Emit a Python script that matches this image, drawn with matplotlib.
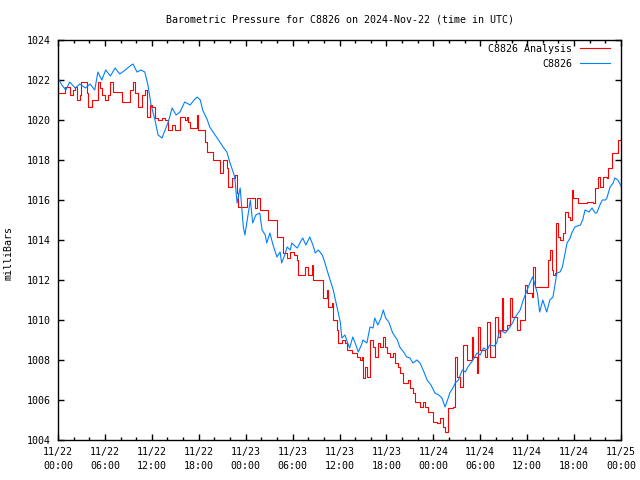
import matplotlib
matplotlib.use('Agg')
import matplotlib.pyplot as plt
from matplotlib.ticker import MultipleLocator

# hours since 11/22 00:00 UTC, pressure in mb
hours_station = [0.0, 0.5, 1.0, 1.5, 2.2, 2.8, 3.5, 4.1, 4.7, 5.1, 5.6, 6.1, 6.7, 7.3, 7.9,
                 8.6, 9.2, 9.6, 10.1, 10.6, 11.1, 11.5, 11.9, 12.4, 12.8, 13.3, 13.7, 14.1,
                 14.6, 15.1, 15.6, 16.2, 16.9, 17.4, 17.8, 18.2, 18.5, 19.1, 19.4, 20.1,
                 20.7, 21.2, 21.6, 22.0, 22.4, 22.6, 22.9, 23.3, 23.7, 23.9, 24.3, 24.6,
                 24.9, 25.3, 25.8, 26.1, 26.5, 26.7, 27.1, 27.5, 28.0, 28.4, 28.6, 29.0,
                 29.3, 29.7, 29.9, 30.3, 30.6, 31.0, 31.3, 31.7, 32.2, 32.6, 32.9, 33.3,
                 33.8, 34.1, 34.4, 34.8, 35.2, 35.7, 36.1, 36.3, 36.7, 37.0, 37.3, 37.7,
                 38.1, 38.4, 38.8, 39.0, 39.5, 39.9, 40.3, 40.5, 40.9, 41.3, 41.6, 41.9,
                 42.3, 42.8, 43.4, 43.7, 44.2, 44.6, 45.0, 45.4, 45.9, 46.3, 46.8, 47.2,
                 47.7, 48.2, 48.7, 49.1, 49.5, 49.9, 50.1, 50.5, 50.8, 51.2, 51.7, 52.1,
                 52.4, 52.9, 53.6, 54.0, 54.4, 54.9, 55.2, 55.8, 56.1, 56.5, 57.2, 57.8,
                 58.2, 58.4, 59.1, 59.5, 60.0, 60.4, 60.7, 61.3, 61.6, 62.0, 62.5, 62.9,
                 63.3, 63.8, 64.2, 64.5, 64.8, 65.1, 65.5, 65.7, 66.1, 66.8, 67.1, 67.4,
                 67.9, 68.3, 68.7, 68.9, 69.3, 69.6, 70.0, 70.2, 70.6, 71.0, 71.2, 71.6, 72.0]
press_station = [1022.1, 1021.75, 1021.5, 1021.9, 1021.6, 1021.8, 1021.6, 1021.8, 1021.5,
                 1022.4, 1022.0, 1022.5, 1022.2, 1022.6, 1022.3, 1022.5, 1022.7, 1022.8,
                 1022.4, 1022.5, 1022.4, 1021.75, 1020.75, 1020.0, 1019.25, 1019.1, 1019.5,
                 1019.9, 1020.6, 1020.25, 1020.4, 1020.9, 1020.75, 1021.0, 1021.15, 1021.0,
                 1020.5, 1020.0, 1019.65, 1019.25, 1018.9, 1018.6, 1018.4, 1017.85, 1017.4,
                 1017.15, 1015.85, 1016.6, 1014.65, 1014.25, 1015.25, 1016.0, 1014.85,
                 1015.25, 1015.35, 1014.5, 1014.25, 1013.85, 1014.35, 1013.75, 1013.15,
                 1013.4, 1012.85, 1013.25, 1013.65, 1013.5, 1013.85, 1013.7, 1013.6, 1013.9,
                 1014.1, 1013.75, 1014.15, 1013.75, 1013.35, 1013.5, 1013.25, 1012.9, 1012.5,
                 1012.0, 1011.5, 1010.6, 1009.9, 1009.1, 1009.25, 1008.9, 1008.6, 1009.15,
                 1008.75, 1008.4, 1008.75, 1009.0, 1008.85, 1009.65, 1009.6, 1010.1, 1009.75,
                 1010.1, 1010.5, 1010.1, 1009.9, 1009.35, 1009.0, 1008.65, 1008.4, 1008.15,
                 1008.1, 1007.85, 1008.0, 1007.85, 1007.4, 1007.0, 1006.75, 1006.35, 1006.25,
                 1006.1, 1005.65, 1006.1, 1006.35, 1006.6, 1006.85, 1007.0, 1007.5, 1007.4,
                 1007.65, 1007.9, 1008.35, 1008.25, 1008.6, 1008.5, 1008.75, 1008.7, 1008.85,
                 1009.5, 1009.35, 1009.65, 1009.9, 1010.1, 1010.5, 1011.0, 1011.5, 1011.9,
                 1012.15, 1011.35, 1010.4, 1011.0, 1010.4, 1011.0, 1011.15, 1012.35, 1012.4,
                 1012.65, 1013.25, 1013.85, 1014.1, 1014.35, 1014.65, 1014.75, 1015.0, 1015.5,
                 1015.4, 1015.6, 1015.35, 1015.35, 1015.75, 1016.0, 1016.0, 1016.1, 1016.65,
                 1016.85, 1017.1, 1017.0, 1016.7]

hours_analysis = [0.0, 0.5, 0.9, 1.3, 1.5, 1.9, 2.2, 2.4, 2.8, 2.9, 3.6, 3.7, 3.8, 4.3, 4.7,
                  5.1, 5.4, 5.6, 6.0, 6.4, 6.7, 7.0, 7.7, 8.2, 8.8, 9.2, 9.6, 9.8, 10.2,
                  10.7, 11.1, 11.4, 11.8, 12.0, 12.4, 12.8, 13.3, 13.7, 14.1, 14.6, 15.0,
                  15.3, 15.6, 16.2, 16.5, 16.6, 16.9, 17.4, 17.8, 17.9, 18.5, 18.8, 19.1,
                  19.7, 19.8, 20.5, 20.7, 21.1, 21.6, 21.7, 22.3, 22.6, 22.9, 23.0, 23.7,
                  24.2, 24.8, 25.2, 25.5, 25.8, 26.7, 26.9, 27.8, 28.0, 28.6, 28.8, 29.3,
                  29.7, 30.2, 30.6, 30.7, 31.2, 31.6, 32.0, 32.5, 32.6, 33.5, 33.9, 34.4,
                  34.5, 35.0, 35.2, 35.4, 35.7, 35.8, 36.3, 36.7, 37.0, 37.6, 38.2, 38.6,
                  38.9, 39.0, 39.3, 39.5, 39.8, 39.9, 40.3, 40.5, 40.9, 41.2, 41.6, 41.8,
                  42.1, 42.5, 42.8, 43.1, 43.5, 43.7, 44.1, 44.8, 45.0, 45.4, 45.7, 46.3,
                  46.7, 46.9, 47.3, 48.0, 48.5, 48.9, 49.2, 49.5, 49.8, 49.9, 50.5, 50.8,
                  51.0, 51.4, 51.8, 52.3, 52.7, 52.9, 53.1, 53.6, 53.7, 54.0, 54.6, 54.9,
                  55.2, 55.6, 55.9, 56.3, 56.5, 56.8, 56.9, 57.4, 57.8, 58.1, 58.7, 59.1,
                  59.5, 59.7, 60.0, 60.6, 60.7, 61.0, 61.6, 62.5, 62.7, 62.9, 63.2, 63.3,
                  63.6, 63.7, 63.9, 64.2, 64.6, 64.8, 65.2, 65.5, 65.7, 65.9, 66.5, 67.7,
                  68.4, 68.7, 69.1, 69.3, 69.7, 70.2, 70.3, 70.8, 71.5, 71.6, 72.0]
press_analysis = [1021.35, 1021.35, 1021.65, 1021.65, 1021.25, 1021.5, 1021.65, 1021.0,
                  1021.25, 1021.9, 1021.9, 1021.35, 1020.65, 1021.0, 1021.0, 1021.9, 1021.6,
                  1021.25, 1021.0, 1021.25, 1021.9, 1021.4, 1021.4, 1020.9, 1020.9, 1021.5,
                  1021.9, 1021.35, 1020.65, 1021.25, 1021.5, 1020.15, 1020.75, 1020.65,
                  1020.1, 1020.0, 1020.1, 1020.0, 1019.5, 1019.75, 1019.5, 1019.5, 1020.15,
                  1020.0, 1020.15, 1019.9, 1019.6, 1019.6, 1020.25, 1019.5, 1019.5, 1018.9,
                  1018.4, 1018.4, 1018.0, 1018.0, 1017.35, 1018.0, 1017.6, 1016.65, 1017.1,
                  1017.25, 1016.35, 1015.65, 1015.65, 1016.1, 1016.1, 1015.6, 1016.1, 1015.5,
                  1015.5, 1015.0, 1015.0, 1014.15, 1014.15, 1013.35, 1013.1, 1013.4, 1013.25,
                  1013.0, 1012.25, 1012.25, 1012.65, 1012.25, 1012.75, 1012.0, 1012.0, 1011.1,
                  1011.5, 1010.65, 1010.85, 1010.0, 1010.0, 1009.5, 1008.85, 1009.0, 1008.85,
                  1008.5, 1008.35, 1008.15, 1008.0, 1008.15, 1007.1, 1007.65, 1007.15, 1007.15,
                  1009.0, 1008.65, 1008.15, 1008.85, 1008.65, 1009.15, 1008.65, 1008.35,
                  1008.15, 1008.35, 1007.85, 1007.65, 1007.35, 1006.85, 1007.0, 1006.6,
                  1006.35, 1005.9, 1005.65, 1005.9, 1005.65, 1005.4, 1004.9, 1004.85, 1005.1,
                  1004.65, 1004.4, 1004.4, 1005.6, 1005.65, 1008.15, 1007.15, 1006.65,
                  1008.75, 1008.0, 1008.0, 1009.15, 1008.15, 1007.35, 1009.65, 1008.5, 1008.15,
                  1009.9, 1008.15, 1008.15, 1010.15, 1009.15, 1009.5, 1011.1, 1009.5, 1009.75,
                  1011.1, 1010.15, 1009.5, 1010.0, 1010.0, 1011.75, 1011.35, 1011.15, 1012.65,
                  1011.65, 1011.65, 1011.65, 1013.0, 1013.5, 1012.5, 1012.25, 1012.35, 1014.85,
                  1014.15, 1014.0, 1014.35, 1015.4, 1015.15, 1015.0, 1016.5, 1016.1, 1015.85,
                  1015.9, 1015.85, 1016.6, 1017.15, 1016.65, 1017.15, 1017.1, 1017.6, 1018.35,
                  1018.35, 1019.0, 1019.0]

tick_hours = [0, 6, 12, 18, 24, 30, 36, 42, 48, 54, 60, 66, 72]
tick_labels = ['11/22\n00:00', '11/22\n06:00', '11/22\n12:00', '11/22\n18:00',
               '11/23\n00:00', '11/23\n06:00', '11/23\n12:00', '11/23\n18:00',
               '11/24\n00:00', '11/24\n06:00', '11/24\n12:00', '11/24\n18:00',
               '11/25\n00:00']

plt.rcParams['font.family'] = ['DejaVu Sans Mono']
plt.rcParams['font.size'] = 7.2

fig = plt.figure(figsize=(6.4, 4.8), dpi=100)
ax = fig.add_axes([58 / 640, 40 / 480, 563 / 640, 400 / 480])

ax.plot(hours_analysis, press_analysis, color='#ff0000', lw=0.8,
        drawstyle='steps-post', label='C8826 Analysis')
ax.plot(hours_station, press_station, color='#0080ff', lw=0.8, label='C8826')

ax.set_xlim(0, 72)
ax.set_ylim(1004, 1024)
ax.set_xticks(tick_hours)
ax.set_xticklabels(tick_labels, linespacing=1.5)
ax.xaxis.set_minor_locator(MultipleLocator(2))
ax.set_yticks(range(1004, 1025, 2))

ax.tick_params(which='both', direction='in', top=True, right=True, width=1, colors='black')
ax.tick_params(which='major', length=4.5, pad=5)
ax.tick_params(which='minor', length=2.2)
for s in ax.spines.values():
    s.set_linewidth(1.0)

fig.text(340 / 640, 1 - 19 / 480, 'Barometric Pressure for C8826 on 2024-Nov-22 (time in UTC)',
         ha='center', va='center')
fig.text(9 / 640, 1 - 253 / 480, 'milliBars', rotation=90, ha='center', va='center')

ax.legend(loc='upper right', bbox_to_anchor=(0.9805, 0.99), frameon=False,
          markerfirst=False, handlelength=3.0, handletextpad=0.8,
          labelspacing=0.5, borderpad=0, borderaxespad=0)

fig.savefig('out.png', dpi=100)
